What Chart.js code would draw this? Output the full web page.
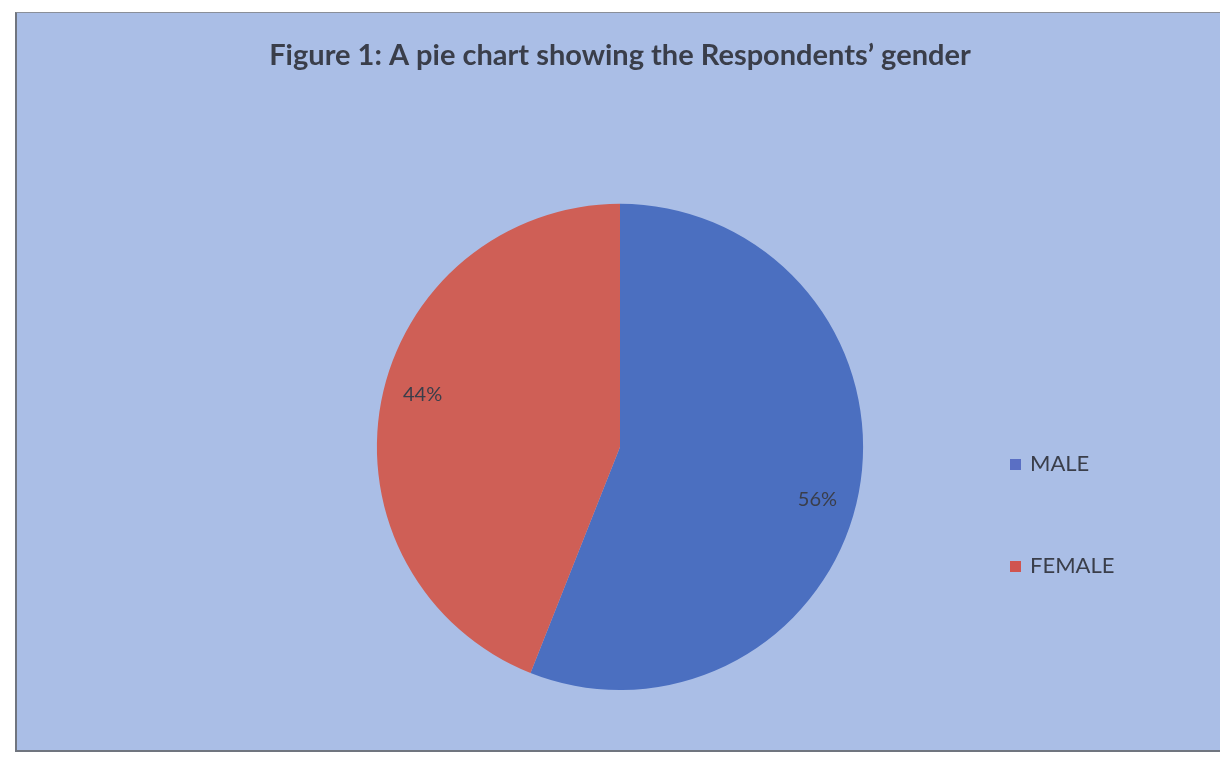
<!DOCTYPE html>
<html>
<head>
<meta charset="utf-8">
<script src="https://cdn.jsdelivr.net/npm/chart.js@4.4.1/dist/chart.umd.min.js"></script>
<style>
  body { margin: 0; background: #ffffff; }
  .chart {
    position: absolute;
    left: 15px;
    top: 12px;
    width: 1205px;
    height: 740px;
    background: #aabee6;
    border-left: 2px solid #70757f;
    border-top: 1px solid #8a8f99;
    border-bottom: 2px solid #70757f;
    box-sizing: border-box;
  }
</style>
</head>
<body>
<div class="chart">
  <canvas id="pie"></canvas>
</div>
<script>
const categories = ['MALE', 'FEMALE'];
const shares = [56, 44];
const sliceColors = ['#4b6fc0', '#cf5f56'];
const legendColors = ['#5a6fc4', '#d05450'];
const chartTitle = 'Figure 1: A pie chart showing the Respondents\u2019 gender';

const textColor = '#3a3e4a';

// percentage labels inside each slice
const sliceLabels = {
  id: 'sliceLabels',
  afterDatasetsDraw(chart) {
    const ctx = chart.ctx;
    const meta = chart.getDatasetMeta(0);
    ctx.save();
    ctx.font = '20px Lato';
    ctx.fillStyle = textColor;
    ctx.textAlign = 'center';
    ctx.textBaseline = 'middle';
    meta.data.forEach((arc, i) => {
      // labels sit a little clockwise of the slice middle
      const mid = (arc.startAngle + arc.endAngle) / 2 + 0.07;
      const r = arc.outerRadius * 0.84;
      const x = arc.x + Math.cos(mid) * r;
      const y = arc.y + Math.sin(mid) * r;
      ctx.fillText(shares[i] + '%', x, y);
    });
    ctx.restore();
  }
};

// legend on the right, items spread apart like the original
const sideLegend = {
  id: 'sideLegend',
  afterDraw(chart) {
    const ctx = chart.ctx;
    const x = 993;
    const y0 = 451;
    const gap = 102;
    ctx.save();
    ctx.font = '22px Lato';
    ctx.textBaseline = 'middle';
    categories.forEach((name, i) => {
      const y = y0 + i * gap;
      ctx.fillStyle = legendColors[i];
      ctx.fillRect(x, y - 5, 11, 11);
      ctx.fillStyle = textColor;
      ctx.fillText(name, x + 20, y);
    });
    ctx.restore();
  }
};

new Chart(document.getElementById('pie').getContext('2d'), {
  type: 'pie',
  data: {
    labels: categories,
    datasets: [{
      data: shares,
      backgroundColor: sliceColors,
      borderWidth: 0
    }]
  },
  options: {
    responsive: true,
    maintainAspectRatio: false,
    animation: false,
    layout: {
      padding: { left: 8, right: 5, top: 0, bottom: 60 }
    },
    plugins: {
      legend: { display: false },
      tooltip: { enabled: false },
      title: {
        display: true,
        text: chartTitle,
        color: textColor,
        font: { family: 'Lato', size: 29, weight: 'bold' },
        padding: { top: 25, bottom: 131 }
      }
    }
  },
  plugins: [sliceLabels, sideLegend]
});
</script>
</body>
</html>
